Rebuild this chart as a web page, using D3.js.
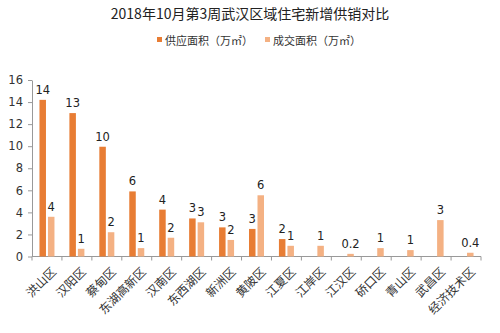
<!DOCTYPE html>
<html><head><meta charset="utf-8">
<script src="https://cdn.jsdelivr.net/npm/d3@7"></script>
<style>body{margin:0;background:#fff}svg{display:block}</style>
</head><body>
<svg id="c" width="500" height="333"></svg>
<script>
const categories = ["洪山区","汉阳区","蔡甸区","东湖高新区","汉南区","东西湖区","新洲区","黄陂区","江夏区","江岸区","江汉区","硚口区","青山区","武昌区","经济技术区"];
const supply = [14.2,13.0,9.95,5.9,4.25,3.45,2.64,2.5,1.58,null,null,null,null,null,null];
const sales = [3.6,0.7,2.2,0.76,1.7,3.1,1.5,5.55,0.97,0.97,0.24,0.76,0.58,3.3,0.34];
const supplyLabels = ["14","13","10","6","4","3","3","3","2","","","","","",""];
const salesLabels = ["4","1","2","1","2","3","2","6","1","1","0.2","1","1","3","0.4"];
const yTicks = [0,2,4,6,8,10,12,14,16];
const seriesNames = ["供应面积（万㎡）","成交面积（万㎡）"];
const colors = ["#E87D34","#F4B183"];

const svg = d3.select("#c");
const font = "'Noto Sans CJK SC', sans-serif";
const numFont = "'DejaVu Sans', sans-serif";
const mLeft = 32, mRight = 481, mTop = 80, mBottom = 256.5;
const x = d3.scaleBand().domain(categories).range([mLeft, mRight]).paddingInner(0).paddingOuter(0);
const y = d3.scaleLinear().domain([0,16]).range([mBottom, mTop]);
const bw = 6.5, gap = 2;

svg.append("text").attr("x",250).attr("y",19).attr("text-anchor","middle")
  .style("font-family",font).style("font-size","14px").style("fill","#222").text("2018年10月第3周武汉区域住宅新增供销对比");

// legend
const lg = svg.append("g");
[[157,0],[265,1]].forEach(([lx,i])=>{
  lg.append("rect").attr("x",lx).attr("y",37).attr("width",5).attr("height",5).attr("fill",colors[i]);
  lg.append("text").attr("x",lx+8).attr("y",44.5).style("font-family",font).style("font-size","11px").style("fill","#333").text(seriesNames[i]);
});

// y axis
const ya = svg.append("g").attr("transform",`translate(${mLeft},0)`)
  .call(d3.axisLeft(y).tickValues(yTicks).tickSize(4).tickSizeOuter(0));
ya.select(".domain").attr("stroke","#999");
ya.selectAll(".tick line").attr("stroke","#999");
ya.selectAll("text").style("font-family",numFont).style("font-size","11.5px").style("fill","#333").attr("dx","-2");

// x axis
const xa = svg.append("g").attr("transform",`translate(0,${mBottom})`);
xa.append("line").attr("x1",mLeft).attr("x2",mRight).attr("stroke","#999");
const bounds = categories.map(c=>x(c)).concat([mRight]);
xa.selectAll("line.t").data(bounds).join("line").attr("class","t")
  .attr("x1",d=>d).attr("x2",d=>d).attr("y1",0).attr("y2",4).attr("stroke","#999");
xa.selectAll("text").data(categories).join("text")
  .attr("transform",d=>`translate(${x(d)+x.bandwidth()/2+4},${10}) rotate(-45)`)
  .attr("text-anchor","end").attr("dy","0.7em")
  .style("font-family",font).style("font-size","12px").style("fill","#333").text(d=>d);

// bars
const cx = d => x(d)+x.bandwidth()/2;
const g = svg.append("g");
categories.forEach((c,i)=>{
  if (supply[i]!=null){
    g.append("rect").attr("x",cx(c)-gap/2-bw).attr("width",bw).attr("y",y(supply[i])).attr("height",y(0)-y(supply[i])).attr("fill",colors[0]);
    g.append("text").attr("x",cx(c)-gap/2-bw/2).attr("y",y(supply[i])-6).attr("text-anchor","middle")
      .style("font-family",numFont).style("font-size","11.5px").style("fill","#222").text(supplyLabels[i]);
  }
  g.append("rect").attr("x",cx(c)+gap/2).attr("width",bw).attr("y",y(sales[i])).attr("height",y(0)-y(sales[i])).attr("fill",colors[1]);
  g.append("text").attr("x",cx(c)+gap/2+bw/2).attr("y",y(sales[i])-6).attr("text-anchor","middle")
    .style("font-family",numFont).style("font-size","11.5px").style("fill","#222").text(salesLabels[i]);
});
</script>
</body></html>
